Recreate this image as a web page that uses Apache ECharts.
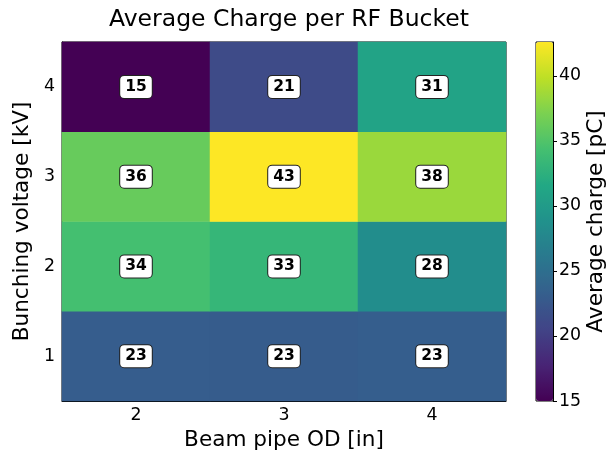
<!DOCTYPE html>
<html>
<head>
<meta charset="utf-8">
<script src="https://cdn.jsdelivr.net/npm/echarts@6/dist/echarts.min.js"></script>
<style>
  html, body { margin: 0; padding: 0; background: #fff; }
  #main { width: 611px; height: 457px; }
</style>
</head>
<body>
<div id="main"></div>
<script>
// beam pipe OD [in] along x, bunching voltage [kV] along y
let pipeOD = ['2', '3', '4'];
let voltage = ['1', '2', '3', '4'];
// average charge [pC], one row per voltage (1 kV first)
let charge1kV = [23.1, 23.0, 23.2];
let charge2kV = [34.3, 33.2, 28.4];
let charge3kV = [36.1, 42.6, 38.4];
let charge4kV = [15.0, 21.2, 30.9];
let cbarTicks = [15, 20, 25, 30, 35, 40];

let viridis = ['#440154', '#482475', '#414487', '#355f8d', '#2a788e', '#21918c',
    '#22a884', '#44bf70', '#7ad151', '#bddf26', '#fde725'];

let rows = [charge1kV, charge2kV, charge3kV, charge4kV];
let cells = [];
for (let j = 0; j < rows.length; j++) {
    for (let i = 0; i < pipeOD.length; i++) {
        cells.push([i, j, rows[j][i]]);
    }
}
let cMin = 15.0;
let cMax = 42.6;

let chart = echarts.init(document.getElementById('main'));
let font = 'DejaVu Sans';
let nameStyle = { fontFamily: font, fontSize: 21.6, color: '#000' };
let tickStyle = { fontFamily: font, fontSize: 17.4, color: '#000' };

let option = {
    animation: false,
    textStyle: { fontFamily: font },
    title: {
        text: 'Average Charge per RF Bucket',
        left: 284, top: 3, textAlign: 'center',
        textStyle: { fontFamily: font, fontSize: 23.5, fontWeight: 'normal', color: '#000' }
    },
    grid: [
        { left: 62, top: 42, width: 444, height: 359, show: true, borderColor: '#000', borderWidth: 1, backgroundColor: 'transparent' },
        { left: 536, top: 42, width: 17, height: 359, show: true, borderColor: '#000', borderWidth: 1, backgroundColor: 'transparent' }
    ],
    xAxis: [{
        type: 'category', data: pipeOD, gridIndex: 0,
        name: 'Beam pipe OD [in]', nameLocation: 'middle', nameGap: 28,
        nameTextStyle: nameStyle,
        axisLine: { lineStyle: { color: '#000' } },
        axisTick: { alignWithLabel: true, length: 4, lineStyle: { color: '#000' } },
        axisLabel: Object.assign({ margin: 6 }, tickStyle),
        splitLine: { show: false }
    }, {
        type: 'category', data: [''], gridIndex: 1, show: false
    }],
    yAxis: [{
        type: 'category', data: voltage, gridIndex: 0,
        name: 'Bunching voltage [kV]', nameLocation: 'middle', nameGap: 21, nameRotate: 90,
        nameTextStyle: nameStyle,
        axisLine: { lineStyle: { color: '#000' } },
        axisTick: { alignWithLabel: true, length: 4, lineStyle: { color: '#000' } },
        axisLabel: Object.assign({ margin: 7 }, tickStyle),
        splitLine: { show: false }
    }, {
        type: 'value', gridIndex: 1, position: 'right',
        min: cMin, max: cMax, interval: 5,
        name: 'Average charge [pC]', nameLocation: 'middle', nameGap: 30, nameRotate: 90,
        nameTextStyle: nameStyle,
        axisLine: { show: true, lineStyle: { color: '#000' } },
        axisTick: { show: true, length: 4, lineStyle: { color: '#000' } },
        axisLabel: Object.assign({
            margin: 6, showMaxLabel: false,
            formatter: function (v) { return cbarTicks.indexOf(v) >= 0 ? v : ''; }
        }, tickStyle),
        splitLine: { show: false }
    }],
    visualMap: {
        type: 'continuous', min: cMin, max: cMax, seriesIndex: 0,
        calculable: false, orient: 'vertical',
        left: 536, top: 42, itemWidth: 17, itemHeight: 359, padding: 0,
        text: null, showLabel: false, hoverLink: false,
        inRange: { color: viridis }
    },
    series: [{
        type: 'heatmap', xAxisIndex: 0, yAxisIndex: 0,
        data: cells,
        label: {
            show: true,
            formatter: function (p) { return Math.round(p.value[2]); },
            fontFamily: font, fontSize: 15.5, fontWeight: 'bold', color: '#000',
            lineHeight: 16,
            backgroundColor: '#fff', borderColor: '#222', borderWidth: 1,
            borderRadius: 4, padding: [3, 5, 3, 5]
        },
        emphasis: { disabled: true }
    }]
};

chart.setOption(option);
</script>
</body>
</html>
